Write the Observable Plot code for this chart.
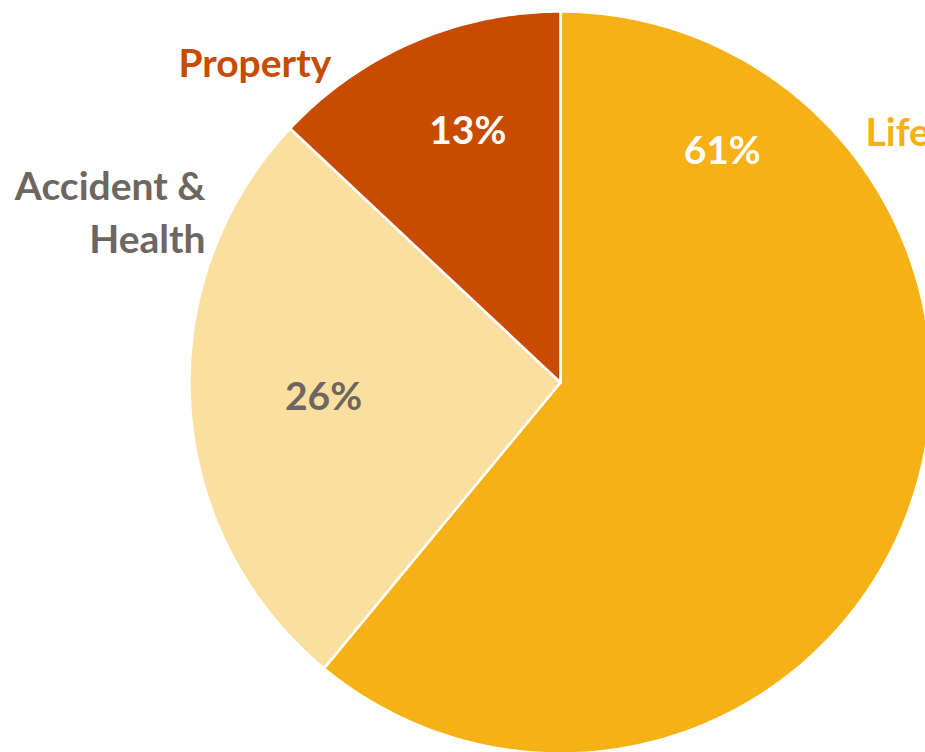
<!DOCTYPE html>
<html>
<head>
<meta charset="utf-8">
<script src="https://cdn.jsdelivr.net/npm/d3@7"></script>
<script src="https://cdn.jsdelivr.net/npm/@observablehq/plot@0.6"></script>
<style>
  html, body { margin: 0; padding: 0; background: #fff; overflow: hidden; }
  #chart { width: 925px; height: 752px; overflow: hidden; }
</style>
</head>
<body>
<div id="chart"></div>
<script>
// ---- data ----
const categories = ["Life", "Accident & Health", "Property"];
const shares = [61, 26, 13];
const colors = ["#F5B115", "#FADFA0", "#C84B00"];
const labelColors = ["#F5B115", "#6E6660", "#C84B00"];
const pctColors = ["#FFFFFF", "#6E6660", "#FFFFFF"];
const displayNames = ["Life", "Accident &\nHealth", "Property"];

// ---- layout (label placement, in unit-radius pie space) ----
const pctAngleDeg = [35, 266.4, 339.7];
const pctRadius = [0.76, 0.64, 0.72];
const nameX = [0.822, -0.957, -0.824];
const nameY = [0.684, 0.465, 0.868];
const nameAnchor = ["start", "end", "middle"];

// ---- geometry from the data ----
const pie = d3.pie().sort(null).value(d => d)(shares);
const polys = [];
pie.forEach((p, i) => {
  const a0 = p.startAngle, a1 = p.endAngle;
  const n = Math.max(2, Math.ceil((a1 - a0) / (Math.PI / 360)));
  polys.push({cat: categories[i], x: 0, y: 0});
  for (let k = 0; k <= n; k++) {
    const a = a0 + (a1 - a0) * k / n;
    polys.push({cat: categories[i], x: Math.sin(a), y: Math.cos(a)});
  }
  polys.push({cat: categories[i], x: 0, y: 0});
});

const pctLabels = categories.map((c, i) => {
  const a = pctAngleDeg[i] * Math.PI / 180;
  return {cat: c, text: shares[i] + "%", x: pctRadius[i] * Math.sin(a), y: pctRadius[i] * Math.cos(a), color: pctColors[i]};
});
const nameLabels = categories.map((c, i) => ({
  cat: c, text: displayNames[i], x: nameX[i], y: nameY[i], color: labelColors[i], anchor: nameAnchor[i]
}));

const font = "Lato, 'Open Sans', sans-serif";

const chart = Plot.plot({
  width: 925,
  height: 752,
  margin: 0,
  style: {background: "#fff", overflow: "hidden", fontFamily: font},
  x: {domain: [-1, 1], range: [189, 931], axis: null},
  y: {domain: [-1, 1], range: [753, 11], axis: null},
  color: {domain: categories, range: colors},
  marks: [
    Plot.line(polys, {x: "x", y: "y", z: "cat", fill: "cat", stroke: "white", strokeWidth: 2.5, strokeLinejoin: "round"}),
    Plot.text(pctLabels, {x: "x", y: "y", text: "text", fill: "color", fontSize: 39, fontWeight: "bold", fontFamily: font}),
    ...["start", "end", "middle"].map(anc =>
      Plot.text(nameLabels.filter(d => d.anchor === anc), {
        x: "x", y: "y", text: "text", fill: "color", textAnchor: anc,
        fontSize: 39, fontWeight: "bold", fontFamily: font, lineHeight: 1.36
      })
    )
  ]
});
document.getElementById("chart").appendChild(chart);
</script>
</body>
</html>
